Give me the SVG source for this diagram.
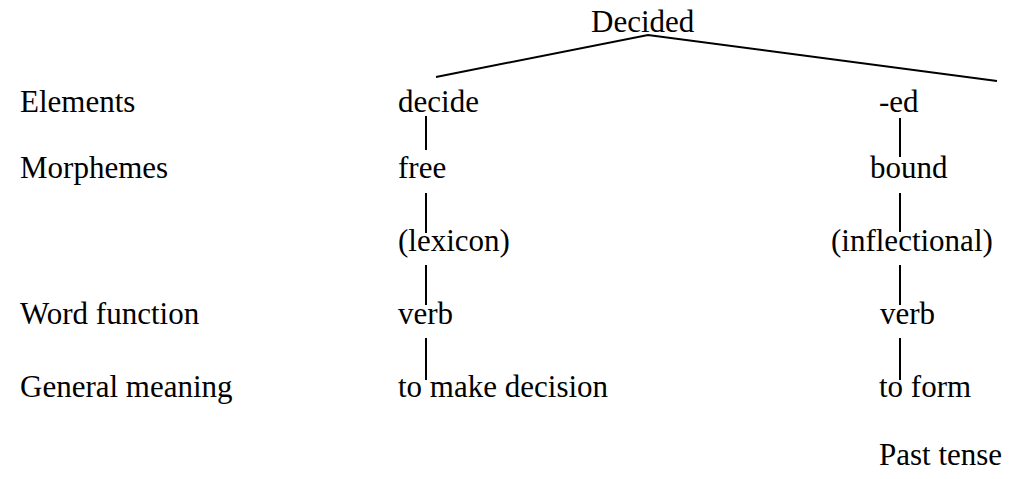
<svg xmlns="http://www.w3.org/2000/svg" width="1009" height="479" viewBox="0 0 1009 479">
  <style>
    text { font-family: "Liberation Serif", "Times New Roman", serif; font-size: 31px; fill: #000; }
    .edge { stroke: #000; stroke-width: 2; fill: none; }
  </style>
  <rect width="1009" height="479" fill="#fff"/>

  <!-- row labels -->
  <g id="labels">
    <text x="20" y="112">Elements</text>
    <text x="20" y="178">Morphemes</text>
    <text x="20" y="324">Word function</text>
    <text x="20" y="397">General meaning</text>
  </g>

  <!-- root word -->
  <g id="root"><text x="591" y="32">Decided</text></g>

  <!-- stem branch -->
  <g id="stem-element"><text x="398" y="112">decide</text></g>
  <g id="stem-morpheme"><text x="398" y="178">free</text></g>
  <g id="stem-type"><text x="398" y="251">(lexicon)</text></g>
  <g id="stem-function"><text x="398" y="324">verb</text></g>
  <g id="stem-meaning"><text x="398" y="397">to make decision</text></g>

  <!-- suffix branch -->
  <g id="suffix-element"><text x="879" y="112">-ed</text></g>
  <g id="suffix-morpheme"><text x="870" y="178">bound</text></g>
  <g id="suffix-type"><text x="831" y="251">(inflectional)</text></g>
  <g id="suffix-function"><text x="880" y="324">verb</text></g>
  <g id="suffix-meaning"><text x="879" y="397">to form</text></g>
  <g id="suffix-note"><text x="879" y="465">Past tense</text></g>

  <!-- connectors -->
  <g id="connectors" class="edge">
    <polyline points="436,77 648,35 997,81"/>
    <line x1="426" y1="116" x2="426" y2="150"/>
    <line x1="426" y1="193" x2="426" y2="233"/>
    <line x1="426" y1="265" x2="426" y2="305"/>
    <line x1="426" y1="338" x2="426" y2="380"/>
    <line x1="900" y1="118" x2="900" y2="157"/>
    <line x1="900" y1="193" x2="900" y2="232"/>
    <line x1="900" y1="265" x2="900" y2="305"/>
    <line x1="900" y1="338" x2="900" y2="380"/>
  </g>
</svg>
